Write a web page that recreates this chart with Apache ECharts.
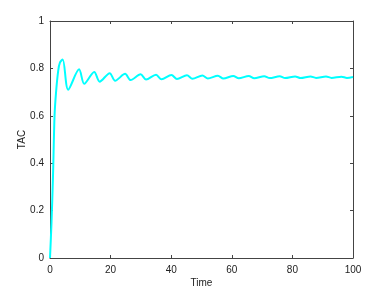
<!DOCTYPE html>
<html>
<head>
<meta charset="utf-8">
<script src="https://cdn.jsdelivr.net/npm/echarts@6/dist/echarts.min.js"></script>
<style>html,body{margin:0;padding:0;background:#fff}#c{width:390px;height:293px}</style>
</head>
<body>
<div id="c"></div>
<script>
const timeValues = [0, 0.5, 1, 1.5, 2, 2.7, 3.3, 4.2, 6.0, 9.6, 11.3, 14.6, 16.4, 19.7, 21.5, 24.8, 26.6, 29.9, 31.7, 35.0, 36.8, 40.1, 41.9, 45.2, 47.0, 50.3, 52.1, 55.4, 57.2, 60.5, 62.3, 65.6, 67.4, 70.7, 72.5, 75.8, 77.6, 80.9, 82.7, 86.0, 87.8, 91.1, 92.9, 96.2, 98.0, 100];
const tacValues = [0, 0.15, 0.35, 0.6, 0.7, 0.79, 0.825, 0.838, 0.710, 0.796, 0.735, 0.785, 0.744, 0.780, 0.748, 0.777, 0.751, 0.775, 0.753, 0.773, 0.754, 0.772, 0.755, 0.771, 0.756, 0.770, 0.757, 0.769, 0.757, 0.768, 0.758, 0.768, 0.758, 0.767, 0.759, 0.767, 0.759, 0.766, 0.759, 0.766, 0.760, 0.766, 0.760, 0.765, 0.760, 0.764];
const xTicks = [0, 20, 40, 60, 80, 100];
const yTicks = [0, 0.2, 0.4, 0.6, 0.8, 1];

const chart = echarts.init(document.getElementById('c'));
const axisLine = {show: true, onZero: false, lineStyle: {color: '#444', width: 1}};
const tickIn = {show: true, inside: true, length: 3, lineStyle: {color: '#444'}};
const fam = 'Liberation Sans, Arial, sans-serif';
const lblFont = {color: '#222', fontSize: 10, fontFamily: fam};
chart.setOption({
  animation: false,
  grid: {left: 50, right: 37, top: 21, bottom: 32},
  xAxis: [
    {type: 'value', min: 0, max: 100, interval: 20, position: 'bottom',
     name: 'Time', nameLocation: 'middle', nameGap: 20, nameMoveOverlap: false,
     nameTextStyle: {color: '#222', fontSize: 10, fontFamily: fam},
     axisLine: axisLine, axisTick: tickIn, splitLine: {show: false},
     axisLabel: Object.assign({margin: 7, formatter: v => xTicks.includes(v) ? String(v) : ''}, lblFont)},
    {type: 'value', min: 0, max: 100, interval: 20, position: 'top',
     axisLine: axisLine, axisTick: tickIn, splitLine: {show: false}, axisLabel: {show: false}}
  ],
  yAxis: [
    {type: 'value', min: 0, max: 1, interval: 0.2, position: 'left',
     name: 'TAC', nameLocation: 'middle', nameGap: 23, nameMoveOverlap: false,
     nameTextStyle: {color: '#222', fontSize: 10, fontFamily: fam},
     axisLine: axisLine, axisTick: tickIn, splitLine: {show: false},
     axisLabel: Object.assign({margin: 6, formatter: v => {
       const t = yTicks.find(y => Math.abs(y - v) < 1e-9);
       return t === undefined ? '' : String(+t.toFixed(1));
     }}, lblFont)},
    {type: 'value', min: 0, max: 1, interval: 0.2, position: 'right',
     axisLine: axisLine, axisTick: tickIn, splitLine: {show: false}, axisLabel: {show: false}}
  ],
  series: [{
    type: 'line', xAxisIndex: 0, yAxisIndex: 0,
    data: timeValues.map((t, i) => [t, tacValues[i]]),
    showSymbol: false, smooth: 0.3,
    lineStyle: {color: '#00ffff', width: 2},
    clip: true
  }]
});
</script>
</body>
</html>
